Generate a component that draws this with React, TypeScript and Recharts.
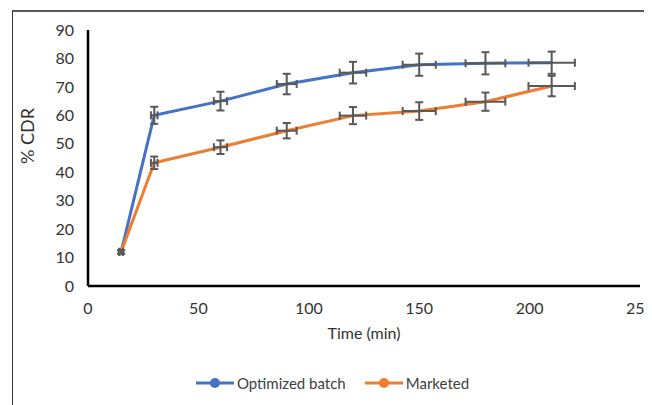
import { ComposedChart, Line, Scatter, XAxis, YAxis, ErrorBar, Legend } from 'recharts'

// Dissolution profile: % cumulative drug release vs time, with error bars
const TIME = [15, 30, 60, 90, 120, 150, 180, 210]
const OPTIMIZED = [12, 60, 65, 71, 75, 77.8, 78.3, 78.5]
const MARKETED = [12, 43.3, 48.8, 54.6, 59.9, 61.5, 64.8, 70.3]
const OPTIMIZED_ERR = [0.6, 3, 3.3, 3.6, 3.8, 3.9, 3.9, 3.9]
const MARKETED_ERR = [0.6, 2.2, 2.4, 2.7, 3, 3.1, 3.2, 3.6]
const TIME_ERR = [0.8, 1.5, 3, 4.5, 6, 7.5, 9, 10.5]
const X_TICKS = [0, 50, 100, 150, 200, 250]
const Y_TICKS = [0, 10, 20, 30, 40, 50, 60, 70, 80, 90]

const SERIES = [
  { key: 'opt', err: 'optErr', name: 'Optimized batch', color: '#4472C4' },
  { key: 'mkt', err: 'mktErr', name: 'Marketed', color: '#ED7D31' },
]

const data = TIME.map((t, i) => ({
  t,
  tErr: TIME_ERR[i],
  opt: OPTIMIZED[i],
  optErr: OPTIMIZED_ERR[i],
  mkt: MARKETED[i],
  mktErr: MARKETED_ERR[i],
}))

const FONT = 'Lato, "Open Sans", sans-serif'
const BAR = '#595959'

function LegendRow() {
  return (
    <div
      style={{
        display: 'flex',
        justifyContent: 'center',
        gap: 18,
        paddingLeft: 16,
        fontFamily: FONT,
        fontSize: 15,
        color: '#404040',
        height: 20,
        alignItems: 'center',
      }}
    >
      {SERIES.map((s) => (
        <div key={s.key} style={{ display: 'flex', alignItems: 'center' }}>
          <svg width={40} height={14} style={{ marginRight: 2 }}>
            <line x1={1} y1={7} x2={39} y2={7} stroke={s.color} strokeWidth={3} />
            <circle cx={20} cy={7} r={5} fill={s.color} />
          </svg>
          <span>{s.name}</span>
        </div>
      ))}
    </div>
  )
}

export default function App() {
  return (
    <div style={{ position: 'relative', width: 644, height: 397 }}>
      <div
        style={{
          position: 'absolute',
          left: 4,
          top: 2,
          width: 640,
          height: 395,
          borderTop: '2px solid #595959',
          borderLeft: '1px solid #333',
          boxSizing: 'border-box',
        }}
      />
      <ComposedChart
        width={644}
        height={397}
        data={data}
        margin={{ top: 22, right: 12, left: 0, bottom: 12 }}
        style={{ position: 'absolute', left: 0, top: 0 }}
      >
        <XAxis
          dataKey="t"
          type="number"
          domain={[0, 250]}
          ticks={X_TICKS}
          interval={0}
          height={87}
          axisLine={{ stroke: '#000', strokeWidth: 2.5 }}
          tickLine={false}
          tickMargin={11}
          tick={{ fill: '#333', fontSize: 16, fontFamily: FONT }}
          label={{
            value: 'Time (min)',
            position: 'insideTop',
            offset: 42,
            style: { fill: '#333', fontSize: 16, fontFamily: FONT },
          }}
        />
        <YAxis
          type="number"
          domain={[0, 90]}
          ticks={Y_TICKS}
          interval={0}
          width={80}
          axisLine={{ stroke: '#000', strokeWidth: 2.5 }}
          tickLine={false}
          tickMargin={8}
          tick={{ fill: '#333', fontSize: 16, fontFamily: FONT }}
          label={{
            content: (props: any) => {
              const vb = props.viewBox
              const x = vb.x + 19
              const y = vb.y + vb.height / 2 - 22
              return (
                <text
                  x={x}
                  y={y}
                  transform={`rotate(-90, ${x}, ${y})`}
                  textAnchor="middle"
                  dominantBaseline="central"
                  fill="#333"
                  fontSize={18}
                  fontFamily={FONT}
                >
                  % CDR
                </text>
              )
            },
          }}
        />
        <Legend verticalAlign="bottom" content={() => <LegendRow />} />
        {SERIES.map((s) => (
          <Line
            key={s.key}
            type="linear"
            dataKey={s.key}
            name={s.name}
            stroke={s.color}
            strokeWidth={3}
            dot={false}
            activeDot={false}
            legendType="none"
            isAnimationActive={false}
          />
        ))}
        {SERIES.map((s) => (
          <Scatter
            key={s.key + '-err'}
            dataKey={s.key}
            shape={() => null}
            legendType="none"
            isAnimationActive={false}
          >
            <ErrorBar dataKey={s.err} direction="y" width={4} stroke={BAR} strokeWidth={2} isAnimationActive={false} />
            <ErrorBar dataKey="tErr" direction="x" width={4} stroke={BAR} strokeWidth={2} isAnimationActive={false} />
          </Scatter>
        ))}
      </ComposedChart>
    </div>
  )
}
